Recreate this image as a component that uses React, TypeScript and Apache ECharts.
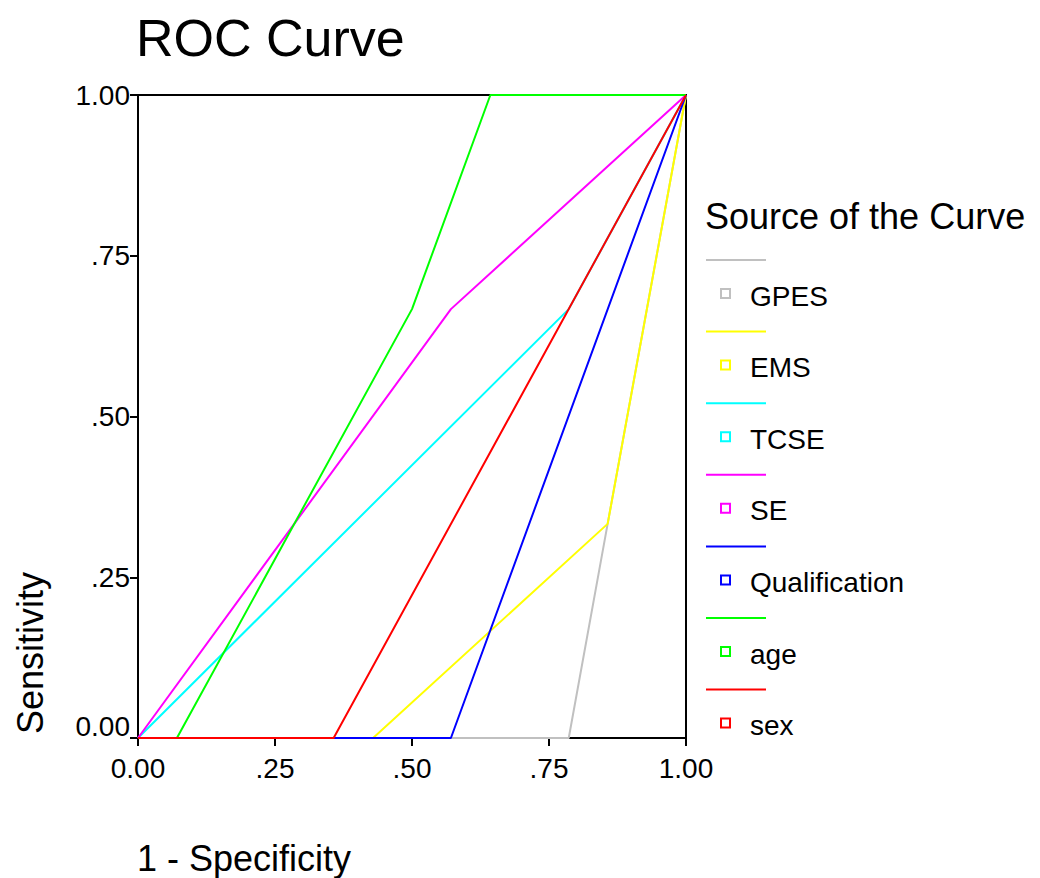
import React, { useEffect, useRef } from "react";
import * as echarts from "echarts";

const FONT = "'Liberation Sans', Arial, sans-serif";

const seriesNames = ["GPES", "EMS", "TCSE", "SE", "Qualification", "age", "sex"];
const seriesColors = ["#c0c0c0", "#ffff00", "#00ffff", "#ff00ff", "#0000ff", "#00ff00", "#ff0000"];

// [1 - Specificity, Sensitivity]
const gpes = [[0, 0], [0.786, 0], [0.857, 0.333], [1, 1]];
const ems = [[0, 0], [0.429, 0], [0.857, 0.333], [1, 1]];
const tcse = [[0, 0], [0.786, 0.667], [1, 1]];
const se = [[0, 0], [0.571, 0.667], [1, 1]];
const qualification = [[0, 0], [0.571, 0], [1, 1]];
const age = [[0, 0], [0.071, 0], [0.5, 0.667], [0.643, 1], [1, 1]];
const sex = [[0, 0], [0.357, 0], [1, 1]];
const seriesData = [gpes, ems, tcse, se, qualification, age, sex];

const tickValues = [0, 0.25, 0.5, 0.75, 1];
const tickLabels = ["0.00", ".25", ".50", ".75", "1.00"];

const labelFor = (v: number) => {
  const i = tickValues.findIndex((t) => Math.abs(t - v) < 1e-6);
  return i >= 0 ? tickLabels[i] : "";
};

export default function App() {
  const ref = useRef<HTMLDivElement>(null);
  useEffect(() => {
    if (!ref.current) return;
    const chart = echarts.init(ref.current, null, { renderer: "svg" });
    const legendStep = 71.6;
    const legendGraphics: any[] = [];
    seriesNames.forEach((name, i) => {
      const y0 = 260 + i * legendStep;
      legendGraphics.push({
        type: "line",
        shape: { x1: 706, y1: y0, x2: 766, y2: y0 },
        style: { stroke: seriesColors[i], lineWidth: 2 },
      });
      legendGraphics.push({
        type: "rect",
        shape: { x: 721, y: y0 + 29, width: 9, height: 9 },
        style: { fill: "#fff", stroke: seriesColors[i], lineWidth: 2 },
      });
      legendGraphics.push({
        type: "text",
        x: 750,
        y: y0 + 36,
        style: {
          text: name,
          fill: "#000",
          font: `28px ${FONT}`,
          verticalAlign: "middle",
          align: "left",
        },
      });
    });

    const axisCommon = {
      type: "value" as const,
      min: 0,
      max: 1,
      interval: 0.25,
      splitLine: { show: false },
      axisLine: { show: true, onZero: false, lineStyle: { color: "#000", width: 2 } },
      axisTick: { show: true, inside: false, length: 8, lineStyle: { color: "#000", width: 2 } },
    };

    chart.setOption({
      animation: false,
      backgroundColor: "#fff",
      title: {
        text: "ROC Curve",
        left: 131,
        top: 7,
        textStyle: { fontFamily: FONT, fontSize: 52, fontWeight: "normal", color: "#000" },
      },
      grid: {
        left: 138,
        right: 354,
        top: 95,
        bottom: 140,
        show: true,
        borderColor: "#000",
        borderWidth: 2,
        backgroundColor: "transparent",
      },
      xAxis: {
        ...axisCommon,
        axisLabel: {
          formatter: (v: number) => labelFor(v),
          fontFamily: FONT,
          fontSize: 28,
          color: "#000",
          margin: 16,
        },
      },
      yAxis: {
        ...axisCommon,
        axisLabel: {
          formatter: (v: number) => (v === 0 ? "{z|0.00}" : labelFor(v)),
          fontFamily: FONT,
          fontSize: 28,
          color: "#000",
          margin: 8,
          rich: {
            z: { fontFamily: FONT, fontSize: 28, color: "#000", padding: [0, 0, 24, 0] },
          },
        },
      },
      graphic: [
        {
          type: "text",
          x: 30,
          y: 653,
          rotation: Math.PI / 2,
          style: {
            text: "Sensitivity",
            fill: "#000",
            font: `36px ${FONT}`,
            align: "center",
            verticalAlign: "middle",
          },
        },
        {
          type: "text",
          x: 137,
          y: 858,
          style: {
            text: "1 - Specificity",
            fill: "#000",
            font: `36px ${FONT}`,
            align: "left",
            verticalAlign: "middle",
          },
        },
        {
          type: "text",
          x: 705,
          y: 216,
          style: {
            text: "Source of the Curve",
            fill: "#000",
            font: `36px ${FONT}`,
            align: "left",
            verticalAlign: "middle",
          },
        },
        ...legendGraphics,
      ],
      series: seriesNames.map((name, i) => ({
        name,
        type: "line",
        data: seriesData[i],
        showSymbol: false,
        symbol: "none",
        lineStyle: { color: seriesColors[i], width: 2 },
        itemStyle: { color: seriesColors[i] },
        z: 3 + i,
        clip: false,
      })),
    });
    return () => chart.dispose();
  }, []);
  return (
    <div
      ref={ref}
      style={{ position: "fixed", left: 0, top: 0, width: 1040, height: 878 }}
    />
  );
}
